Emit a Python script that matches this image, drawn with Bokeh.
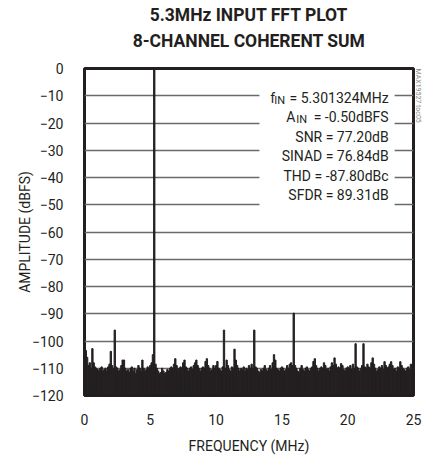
from bokeh.plotting import figure
from bokeh.models import Range1d, FixedTicker, Label, BoxAnnotation, Title
from bokeh.embed import file_html
from bokeh.resources import INLINE

# ---------------- data ----------------
title_lines = ["5.3MHz INPUT FFT PLOT", "8-CHANNEL COHERENT SUM"]
x_label = "FREQUENCY (MHz)"
y_label = "AMPLITUDE (dBFS)"
x_ticks = [0, 5, 10, 15, 20, 25]
y_ticks = [0, -10, -20, -30, -40, -50, -60, -70, -80, -90, -100, -110, -120]
bin_width_mhz = 0.1
# FFT magnitude per 0.1 MHz bin, 0.0 .. 25.0 MHz
amp_dbfs = [
    -104.0, -103.5, -106.0, -109.0, -108.0, -110.0, -102.8, -108.0, -109.5, -110.0,
    -110.5, -111.0, -110.0, -109.5, -111.0, -110.5, -110.0, -111.0, -109.5, -108.5,
    -103.8, -109.0, -110.0, -96.0, -109.5, -110.0, -111.0, -110.5, -109.0, -107.0,
    -107.0, -110.0, -111.0, -110.5, -111.5, -110.0, -109.5, -111.0, -110.0, -112.0,
    -110.5, -109.0, -110.0, -111.0, -107.0, -110.0, -111.0, -110.5, -109.5, -110.0,
    -109.0, -108.0, -105.0, -0.5, -108.5, -110.0, -111.0, -112.0, -111.5, -110.0,
    -111.0, -112.0, -111.5, -110.5, -111.0, -110.0, -109.5, -110.0, -108.5, -106.5,
    -109.0, -110.5, -110.0, -109.5, -110.0, -108.0, -107.0, -109.5, -110.0, -111.0,
    -110.0, -109.5, -110.5, -109.0, -108.0, -107.0, -109.0, -110.0, -111.0, -110.0,
    -109.5, -110.0, -107.5, -106.5, -109.0, -110.0, -111.0, -110.5, -109.0, -110.0,
    -109.0, -107.5, -110.0, -110.5, -111.0, -109.5, -96.0, -110.0, -107.0, -109.0,
    -110.5, -111.0, -109.5, -110.0, -103.0, -107.0, -109.0, -110.0, -111.0, -110.0,
    -110.5, -109.5, -111.0, -110.0, -110.5, -109.0, -110.0, -108.5, -110.0, -96.0,
    -109.5, -110.0, -111.0, -111.5, -110.5, -111.0, -110.0, -109.0, -110.5, -111.0,
    -110.0, -109.0, -110.5, -108.0, -105.0, -107.0, -110.0, -110.5, -111.0, -110.0,
    -109.5, -110.0, -111.0, -110.5, -109.0, -110.0, -108.5, -108.0, -109.0, -89.8,
    -109.0, -110.0, -111.0, -111.5, -110.0, -109.0, -110.5, -111.0, -110.0, -109.5,
    -110.5, -111.0, -110.0, -109.5, -107.5, -106.5, -109.0, -110.0, -111.0, -110.0,
    -109.5, -110.0, -108.0, -109.0, -110.5, -110.0, -111.0, -109.5, -108.0, -109.0,
    -106.2, -108.5, -110.0, -109.5, -110.0, -108.3, -109.0, -110.5, -111.0, -110.0,
    -109.5, -110.0, -109.0, -110.5, -108.5, -110.0, -101.0, -109.5, -110.0, -111.0,
    -110.0, -109.0, -101.0, -109.5, -110.0, -108.5, -109.5, -110.0, -108.0, -106.2,
    -108.5, -110.0, -111.0, -110.5, -109.5, -110.0, -109.0, -110.5, -107.6, -109.0,
    -110.0, -109.5, -108.5, -107.6, -109.0, -110.5, -110.0, -111.0, -109.5, -110.0,
    -107.6, -109.0, -110.0, -110.5, -111.0, -110.0, -109.5, -110.5, -108.5, -109.0,
    -110.0,
]
freq_mhz = [round(i * bin_width_mhz, 2) for i in range(len(amp_dbfs))]

stats_rows = [
    ("f", "IN", "= 5.301324MHz"),
    ("A", "IN", "= -0.50dBFS"),
    ("", "", "SNR = 77.20dB"),
    ("", "", "SINAD = 76.84dB"),
    ("", "", "THD = -87.80dBc"),
    ("", "", "SFDR = 89.31dB"),
]
doc_id = "MAX19527 toc05"

# ---------------- layout helpers (page pixels -> data) ----------------
FL, FR, FT, FB = 84.0, 415.0, 68.0, 401.0


def px_x(x):
    return (x - FL) / (FR - FL) * 25.0


def px_y(y):
    return -(y - FT) / (FB - FT) * 120.0


FONT = "Roboto"
INK = "#231f20"

p = figure(width=423, height=456, x_range=Range1d(0, 25), y_range=Range1d(-120, 0),
           output_backend="svg", toolbar_location=None,
           min_border_left=84, min_border_right=8, min_border_top=68, min_border_bottom=55)
p.background_fill_color = "white"
p.border_fill_color = "white"
p.outline_line_color = INK
p.outline_line_width = 3

p.vbar(x=freq_mhz, top=amp_dbfs, bottom=-120, width=bin_width_mhz,
       fill_color=INK, line_color=INK, line_width=1)

p.xgrid.grid_line_color = None
p.ygrid.grid_line_color = "#6a6a6a"
p.ygrid.grid_line_width = 1.5

for ax in (p.xaxis[0], p.yaxis[0]):
    ax.axis_line_color = None
    ax.major_tick_line_color = None
    ax.minor_tick_line_color = None
    ax.major_label_text_font = FONT
    ax.major_label_text_font_size = "14px"
    ax.major_label_text_color = INK
    ax.axis_label_text_font = FONT
    ax.axis_label_text_font_size = "14px"
    ax.axis_label_text_font_style = "normal"
    ax.axis_label_text_color = INK

p.xaxis.ticker = FixedTicker(ticks=x_ticks)
p.yaxis.ticker = FixedTicker(ticks=y_ticks)
p.xaxis.axis_label = x_label
p.yaxis.axis_label = y_label
p.xaxis.major_label_standoff = 12
p.xaxis.axis_label_standoff = 10
p.yaxis.major_label_standoff = 15
p.yaxis.axis_label_standoff = -4

# title block (first added sits closest to the plot): spacer, line 2, line 1
p.add_layout(Title(text=" ", text_font=FONT, text_font_size="1px", standoff=12), "above")
p.add_layout(Title(text=title_lines[1], align="center", text_font=FONT, text_font_size="17.5px",
                   text_font_style="bold", text_color=INK, standoff=5), "above")
p.add_layout(Title(text=title_lines[0], align="center", text_font=FONT, text_font_size="17.5px",
                   text_font_style="bold", text_color=INK, standoff=4), "above")

# document id at the right edge
p.add_layout(Title(text=doc_id, align="left", text_font=FONT, text_font_size="7px",
                   text_font_style="normal", text_color="#8a8a8a", standoff=0, offset=0), "right")

# white box behind the stats
p.add_layout(BoxAnnotation(left=px_x(260), right=px_x(396), top=px_y(80), bottom=px_y(214),
                           fill_color="white", fill_alpha=1.0, line_color=None, level="annotation"))

baselines = [98, 117.8, 137.6, 157.4, 177.2, 197]
sub_pos = {"f": (271, 275), "A": (287, 297)}
for (big, sub, main), yb in zip(stats_rows, baselines):
    p.add_layout(Label(x=px_x(390), y=px_y(yb), text=main, text_align="right",
                       text_baseline="alphabetic", text_font=FONT, text_font_size="14px",
                       text_color=INK))
    if big:
        xb, xs = sub_pos[big]
        p.add_layout(Label(x=px_x(xb), y=px_y(yb), text=big, text_align="left",
                           text_baseline="alphabetic", text_font=FONT, text_font_size="14px",
                           text_color=INK))
        p.add_layout(Label(x=px_x(xs), y=px_y(yb + 2.5), text=sub, text_align="left",
                           text_baseline="alphabetic", text_font=FONT, text_font_size="11px",
                           text_color=INK))

open("out.html", "w").write(file_html(p, INLINE))
